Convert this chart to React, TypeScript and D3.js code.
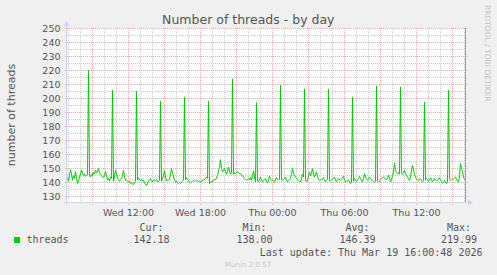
import React from 'react';
import * as d3 from 'd3';

const W = 497;
const H = 275;
const title = 'Number of threads - by day';
const yAxisTitle = 'number of threads';
const seriesName = 'threads';
const yTickValues = [130, 140, 150, 160, 170, 180, 190, 200, 210, 220, 230, 240, 250];
const yMinorValues = [135, 145, 155, 165, 175, 185, 195, 205, 215, 225, 235, 245];
const statHeaders = ['Cur:', 'Min:', 'Avg:', 'Max:'];
const statValues = ['142.18', '138.00', '146.39', '219.99'];
const lastUpdate = 'Last update: Thu Mar 19 16:00:48 2026';
const footer = 'Munin 2.0.57';
const sideText = 'RRDTOOL / TOBI OETIKER';
const startTime = new Date(2026, 2, 18, 6, 55);
const stepMinutes = 5;

const threads = [
  143.6, 141, 145, 149.3, 146, 141.7, 145, 143, 148, 143,
  139.3, 141, 144, 146, 149, 147, 145, 146, 144.5, 145,
  146, 219.99, 145, 144, 146, 145, 147.6, 146, 148.8, 147,
  148.3, 150, 147, 146, 145, 144, 143.6, 145, 148, 145,
  142, 143, 141, 144, 143, 206, 141, 144, 148.8, 146,
  143.6, 142, 141, 142, 142.9, 145, 148.8, 144, 141.7, 142,
  141, 140.5, 141, 139.3, 140, 139, 138.6, 140.5, 141, 205,
  142, 143.6, 142, 141.7, 142, 141, 141.7, 140, 139, 138,
  139.5, 141, 142, 143, 141.5, 140.5, 142, 141, 141.5, 142.4,
  140.5, 141, 142, 198, 141, 143, 145, 148.8, 144, 141,
  142, 141.5, 142, 146, 150, 147, 144, 142, 140.5, 141,
  140, 139.3, 140, 139.5, 140.5, 141, 142, 201, 142, 143.6,
  142.5, 141.7, 140.5, 139.8, 140.5, 141, 141.7, 140.8, 141.5, 142,
  141, 140.5, 141.2, 140.5, 141, 142, 141.7, 142.5, 143, 144,
  143, 198, 139.3, 140.5, 141, 140.5, 141.7, 142.5, 142, 143.3,
  145, 148.3, 151, 156.4, 150, 147.6, 148.5, 150, 148, 146,
  149, 151.2, 148, 146, 147, 214, 146, 147, 146.4, 147,
  148, 147, 146.5, 146.4, 145.5, 145, 144, 143, 142.5, 141.7,
  142.5, 143, 142, 144, 141.7, 145, 148.3, 144, 140.5, 197,
  142, 140.5, 142, 144, 142, 140.5, 141.5, 142, 142.9, 141,
  139.8, 142, 144.5, 143, 141.7, 142, 141, 140.5, 142, 143.6,
  142.5, 141.7, 142.5, 209.6, 142, 141.7, 142.5, 143, 144, 142,
  140.5, 141.5, 142, 142.9, 146, 150, 147, 145, 144, 143,
  142, 141.5, 141, 140.5, 143, 146, 144, 206.7, 142, 140.5,
  142, 145, 147.6, 145, 147, 150, 146, 144, 145.5, 147.6,
  144.5, 142, 141.5, 141.7, 142.5, 143, 143.6, 142, 140.5, 141.7,
  142.5, 206.7, 142, 141, 141.7, 142.5, 143, 144, 142, 140.5,
  141.5, 142.9, 142, 141.7, 142.5, 143.5, 144.5, 142, 140.5, 141,
  141.5, 142, 140.5, 139.3, 140, 201, 141, 142.9, 142, 141,
  141.7, 143, 144.5, 143, 141.5, 140.5, 143, 146.4, 144, 142.5,
  141.7, 142.5, 144, 143, 142, 141.2, 140.8, 140.5, 141, 209,
  141.5, 140.5, 141, 142, 143, 143.5, 144, 143, 142.5, 142,
  143.5, 145.2, 143, 140.5, 142, 145, 147.6, 154, 148.8, 147.5,
  146.5, 147, 146, 208.2, 146.5, 146, 147, 148.8, 146.5, 145.2,
  144, 143, 141.7, 144, 148.8, 152.4, 149, 146, 144, 142.4,
  142, 141.7, 142.5, 142.9, 141.5, 140.5, 141.5, 197.5, 142, 142.9,
  142, 141, 142, 143.6, 142, 140.5, 141.5, 142.9, 142, 141.5,
  141.7, 142.5, 143.6, 142, 140.8, 139.8, 140.5, 141.7, 140.5, 139.3,
  140.5, 206, 142.5, 141.7, 142, 142.5, 142.9, 143.5, 144, 142.5,
  141, 140.5, 145, 153.6, 150, 148, 144, 142.18,
];

const PL = 67;
const PR = 465;
const PT = 28;
const PB = 202;

const timeAt = (i: number) => new Date(startTime.getTime() + i * stepMinutes * 60000);

export default function App() {
  const x = d3
    .scaleTime()
    .domain([timeAt(-0.5), timeAt(threads.length - 0.5)])
    .range([PL, PR]);
  const y = d3.scaleLinear().domain([130, 250]).range([196.7, 28.3]);
  const py = (v: number) => Math.floor(y(v)) + 0.5;
  const px = (d: Date) => Math.floor(x(d)) + 0.5;

  const hours = x.ticks(d3.timeHour.every(1) as any);
  const minorHours = hours.filter((d) => d.getHours() % 3 !== 0);
  const majorHours = hours.filter((d) => d.getHours() % 3 === 0);
  const labelHours = hours.filter((d) => d.getHours() % 6 === 0);
  const fmt = d3.timeFormat('%a %H:%M');

  const line = d3
    .line<number>()
    .x((_, i) => x(timeAt(i)))
    .y((v) => y(v));

  const sans = 'DejaVu Sans';
  const mono = 'DejaVu Sans Mono';
  const fg = '#555555';
  const minorCol = '#cccccc';
  const majorCol = '#eeaaaa';
  const axisCol = '#cdd4f6';

  const statEnds = [169.5, 272.5, 375.5, 477];

  return (
    <svg
      width={W}
      height={H}
      style={{ position: 'absolute', left: 0, top: 0, display: 'block' }}
      xmlns="http://www.w3.org/2000/svg"
    >
      <rect x={0} y={0} width={W} height={H} fill="#f0f0f0" />
      <rect x={PL} y={PT} width={PR - PL} height={PB - PT} fill="#ffffff" />

      {yMinorValues.map((v) => (
        <line key={'hm' + v} x1={PL} x2={PR + 1} y1={py(v)} y2={py(v)} stroke={minorCol} strokeDasharray="1,1" />
      ))}
      {minorHours.map((d) => (
        <line key={'vm' + d.getTime()} x1={px(d)} x2={px(d)} y1={PT} y2={PB + 2} stroke={minorCol} strokeDasharray="1,1" />
      ))}
      {yTickValues.map((v) => (
        <line key={'hM' + v} x1={PL - 2} x2={PR + 3} y1={py(v)} y2={py(v)} stroke={majorCol} strokeDasharray="1,1" />
      ))}
      {majorHours.map((d) => (
        <line key={'vM' + d.getTime()} x1={px(d)} x2={px(d)} y1={PT} y2={PB + 4} stroke={majorCol} strokeDasharray="1,1" />
      ))}

      <line x1={PL - 3} x2={PR + 3} y1={PB + 0.5} y2={PB + 0.5} stroke={axisCol} />
      <path d={`M${PR + 3},${PB - 2.5} L${PR + 8},${PB + 0.5} L${PR + 3},${PB + 3.5} Z`} fill={axisCol} />
      <line x1={PL - 0.5} x2={PL - 0.5} y1={PB + 3} y2={PT - 2} stroke={axisCol} />
      <path d={`M${PL - 3.5},${PT - 2} L${PL - 0.5},${PT - 7} L${PL + 2.5},${PT - 2} Z`} fill={axisCol} />
      <line x1={PR + 0.5} x2={PR + 0.5} y1={PT} y2={PB} stroke="#999999" />

      <path d={line(threads) || ''} fill="none" stroke="#00cc00" strokeWidth={1} />

      {yTickValues.map((v) => (
        <text key={'yl' + v} x={60.5} y={py(v) + 3.3} textAnchor="end" fontFamily={sans} fontSize={9.5} fill={fg}>
          {v}
        </text>
      ))}
      {labelHours.map((d) => (
        <text key={'xl' + d.getTime()} x={px(d)} y={216} textAnchor="middle" fontFamily={sans} fontSize={9.5} fill={fg}>
          {fmt(d)}
        </text>
      ))}

      <text x={248.3} y={23.5} textAnchor="middle" fontFamily={sans} fontSize={12.5} fill={fg}>
        {title}
      </text>
      <text transform="translate(15,115) rotate(-90)" textAnchor="middle" fontFamily={sans} fontSize={11} fill={fg}>
        {yAxisTitle}
      </text>
      <text transform="translate(485,5) rotate(90)" textAnchor="start" fontFamily={sans} fontSize={7.5} fill="#c4c4c4">
        {sideText}
      </text>

      <rect x={14} y={237} width={6} height={6} fill="#00cc00" />
      <text x={26.5} y={243.3} fontFamily={mono} fontSize={10} fill={fg}>
        {seriesName}
      </text>
      {statHeaders.map((h, i) => (
        <text key={h} x={statEnds[i] - 6} y={230.5} textAnchor="end" fontFamily={mono} fontSize={10} fill={fg}>
          {h}
        </text>
      ))}
      {statValues.map((v, i) => (
        <text key={'sv' + i} x={statEnds[i]} y={243.3} textAnchor="end" fontFamily={mono} fontSize={10} fill={fg}>
          {v}
        </text>
      ))}
      <text x={482.5} y={255.5} textAnchor="end" fontFamily={mono} fontSize={10} fill={fg}>
        {lastUpdate}
      </text>
      <text x={248} y={266.5} textAnchor="middle" fontFamily={sans} fontSize={7.1} fill="#c8c8c8">
        {footer}
      </text>
    </svg>
  );
}
